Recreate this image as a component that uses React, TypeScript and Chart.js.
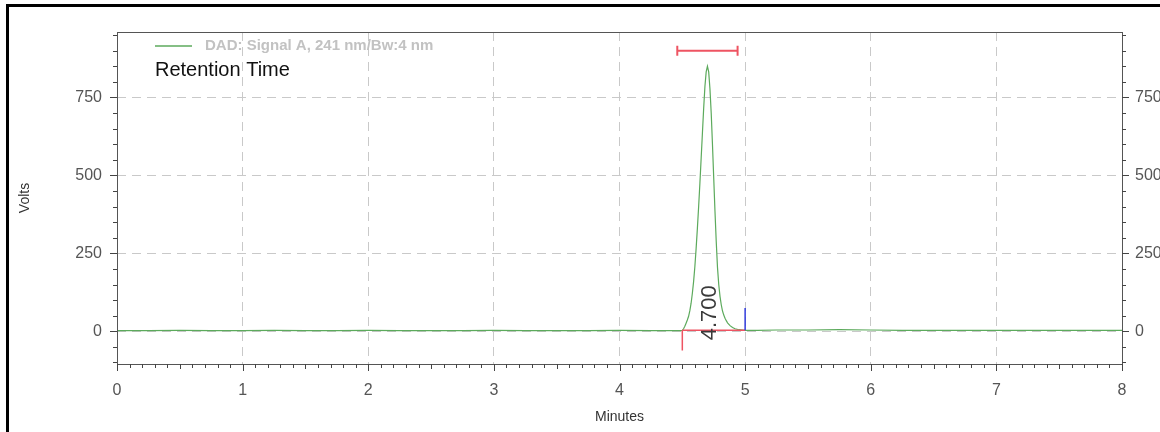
import React, { useEffect, useRef } from 'react';
import { Chart, registerables } from 'chart.js';

Chart.register(...registerables);

// ---- data ----
const TIME = [
  0, 0.25, 0.5, 0.75, 1.0, 1.25, 1.5, 1.75, 2.0, 2.25, 2.5, 2.75, 3.0, 3.25, 3.5, 3.75, 4.0, 4.25, 4.4, 4.48,
  4.5, 4.51, 4.52, 4.53, 4.54, 4.55, 4.56, 4.57, 4.58, 4.59, 4.6, 4.61, 4.62, 4.63, 4.64, 4.65, 4.66, 4.67, 4.68, 4.69, 4.7,
  4.71, 4.72, 4.73, 4.74, 4.75, 4.76, 4.77, 4.78, 4.79, 4.8, 4.81, 4.82, 4.83, 4.84, 4.85, 4.86,
  4.88, 4.9, 4.92, 4.95, 5.0, 5.1, 5.25, 5.5, 5.75, 6.0, 6.25, 6.5, 6.75, 7.0, 7.25, 7.5, 7.75, 8.0,
];
const SIGNAL = [
  2, 2, 3, 2, 2, 3, 2, 2, 3, 2, 2, 2, 3, 2, 2, 2, 3, 2, 2, 2,
  3, 8, 16, 26, 36, 48, 66, 90, 122, 160, 208, 266, 330, 400, 475, 555, 635, 715, 785, 832, 850,
  832, 778, 700, 600, 492, 385, 288, 205, 150, 112, 85, 65, 52, 42, 34, 27,
  18, 12, 8, 5, 3, 3, 4, 4, 5, 4, 3, 3, 3, 3, 3, 3, 3, 3,
];

const X_TICKS = [0, 1, 2, 3, 4, 5, 6, 7, 8];
const Y_TICKS = [0, 250, 500, 750];
const X_MIN = 0;
const X_MAX = 8;
const Y_MIN = -105;
const Y_MAX = 960;

const SERIES_LABEL = 'DAD: Signal A, 241 nm/Bw:4 nm';
const ANNOTATION_TITLE = 'Retention Time';
const X_TITLE = 'Minutes';
const Y_TITLE = 'Volts';

const PEAK_TIME = 4.7;
const PEAK_LABEL = '4.700';
const PEAK_START = 4.5;
const PEAK_END = 5.0;
const WINDOW_START = 4.46;
const WINDOW_END = 4.94;
const WINDOW_LEVEL = 900;
const BASELINE_LEVEL = 3;
const START_MARK_LOW = -62;
const END_MARK_HIGH = 75;

const FONT = '"Liberation Sans", Arial, sans-serif';
const GREEN = 'rgb(92,170,92)';
const RED = 'rgb(238,84,98)';
const BLUE = 'rgb(50,60,220)';

const chromPlugin = {
  id: 'chrom',
  beforeDraw(chart: any) {
    const { ctx, width, height } = chart;
    ctx.save();
    ctx.fillStyle = '#ffffff';
    ctx.fillRect(0, 0, width, height);
    ctx.fillStyle = '#000000';
    ctx.fillRect(6, 4, width - 6, 3);
    ctx.fillRect(6, 4, 3, height - 4);
    ctx.restore();
  },
  afterDraw(chart: any) {
    const { ctx, chartArea } = chart;
    const xs = chart.scales.x;
    const ys = chart.scales.y;
    const { left, right, top, bottom } = chartArea;
    ctx.save();

    // frame
    ctx.strokeStyle = '#555555';
    ctx.lineWidth = 1;
    ctx.strokeRect(Math.round(left) + 0.5, Math.round(top) + 0.5, Math.round(right - left), Math.round(bottom - top));

    // tick marks
    ctx.strokeStyle = '#444444';
    ctx.beginPath();
    for (let v = -100; v <= Y_MAX; v += 50) {
      const y = Math.round(ys.getPixelForValue(v)) + 0.5;
      const len = v % 250 === 0 ? 7 : 4;
      ctx.moveTo(left, y);
      ctx.lineTo(left - len, y);
      ctx.moveTo(right, y);
      ctx.lineTo(right + len, y);
    }
    for (let i = 0; i <= 80; i++) {
      const t = i / 10;
      const x = Math.round(xs.getPixelForValue(t)) + 0.5;
      const len = i % 10 === 0 ? 7 : i % 5 === 0 ? 5 : 4;
      ctx.moveTo(x, bottom);
      ctx.lineTo(x, bottom + len);
    }
    ctx.stroke();

    // retention-time window bar
    const wy = ys.getPixelForValue(WINDOW_LEVEL);
    const wx1 = xs.getPixelForValue(WINDOW_START);
    const wx2 = xs.getPixelForValue(WINDOW_END);
    ctx.strokeStyle = RED;
    ctx.lineWidth = 2;
    ctx.beginPath();
    ctx.moveTo(wx1, wy);
    ctx.lineTo(wx2, wy);
    ctx.moveTo(wx1, wy - 5);
    ctx.lineTo(wx1, wy + 5);
    ctx.moveTo(wx2, wy - 5);
    ctx.lineTo(wx2, wy + 5);
    ctx.stroke();

    // integration baseline and marks
    const by = ys.getPixelForValue(BASELINE_LEVEL);
    const sx = xs.getPixelForValue(PEAK_START);
    const ex = xs.getPixelForValue(PEAK_END);
    ctx.lineWidth = 1.5;
    ctx.beginPath();
    ctx.moveTo(sx, by);
    ctx.lineTo(ex, by);
    ctx.moveTo(sx, by);
    ctx.lineTo(sx, ys.getPixelForValue(START_MARK_LOW));
    ctx.stroke();
    ctx.strokeStyle = BLUE;
    ctx.beginPath();
    ctx.moveTo(ex, by);
    ctx.lineTo(ex, ys.getPixelForValue(END_MARK_HIGH));
    ctx.stroke();

    // peak label
    ctx.save();
    ctx.translate(xs.getPixelForValue(PEAK_TIME) + 2, by + 10);
    ctx.rotate(-Math.PI / 2);
    ctx.fillStyle = '#3a3a3a';
    ctx.font = `22px ${FONT}`;
    ctx.textAlign = 'left';
    ctx.textBaseline = 'middle';
    ctx.fillText(PEAK_LABEL, 0, 0);
    ctx.restore();

    // legend
    ctx.strokeStyle = GREEN;
    ctx.lineWidth = 1.5;
    ctx.beginPath();
    ctx.moveTo(155, 46);
    ctx.lineTo(192, 46);
    ctx.stroke();
    ctx.fillStyle = '#c2c2c2';
    ctx.font = `bold 15px ${FONT}`;
    ctx.textAlign = 'left';
    ctx.textBaseline = 'middle';
    ctx.fillText(SERIES_LABEL, 205, 46);

    ctx.fillStyle = '#111111';
    ctx.font = `20px ${FONT}`;
    ctx.fillText(ANNOTATION_TITLE, 155, 70);

    // axis titles
    ctx.fillStyle = '#333333';
    ctx.font = `14px ${FONT}`;
    ctx.textAlign = 'center';
    ctx.fillText(X_TITLE, (left + right) / 2, 417);
    ctx.save();
    ctx.translate(25, (top + bottom) / 2);
    ctx.rotate(-Math.PI / 2);
    ctx.fillText(Y_TITLE, 0, 0);
    ctx.restore();

    ctx.restore();
  },
};

export default function App() {
  const canvasRef = useRef<HTMLCanvasElement | null>(null);

  useEffect(() => {
    const canvas = canvasRef.current;
    if (!canvas) return;
    const gridColorY = (ctx: any) => (Y_TICKS.includes(ctx.tick?.value) ? '#c9c9c9' : 'transparent');
    const gridColorX = (ctx: any) => {
      const v = ctx.tick?.value;
      return v > X_MIN && v < X_MAX ? '#c9c9c9' : 'transparent';
    };
    const chart = new Chart(canvas, {
      type: 'line',
      data: {
        datasets: [
          {
            label: SERIES_LABEL,
            data: TIME.map((t, i) => ({ x: t, y: SIGNAL[i] })),
            borderColor: GREEN,
            borderWidth: 1.2,
            pointRadius: 0,
            tension: 0,
            fill: false,
          },
        ],
      },
      options: {
        animation: false,
        responsive: false,
        devicePixelRatio: 1,
        layout: { padding: { top: 32, left: 0, right: 0, bottom: 0 } },
        plugins: { legend: { display: false }, tooltip: { enabled: false } },
        scales: {
          x: {
            type: 'linear',
            position: 'bottom',
            min: X_MIN,
            max: X_MAX,
            afterBuildTicks: (s: any) => {
              s.ticks = X_TICKS.map((v) => ({ value: v }));
            },
            afterFit: (s: any) => {
              s.height = 68;
            },
            ticks: {
              color: '#555555',
              font: { family: FONT, size: 16 },
              padding: 17,
              maxRotation: 0,
              autoSkip: false,
            },
            grid: { color: gridColorX, lineWidth: 1, drawTicks: false },
            border: { display: false, dash: [9, 6] },
          },
          y: {
            type: 'linear',
            position: 'left',
            min: Y_MIN,
            max: Y_MAX,
            afterBuildTicks: (s: any) => {
              s.ticks = Y_TICKS.map((v) => ({ value: v }));
            },
            afterFit: (s: any) => {
              s.width = 117;
            },
            ticks: {
              color: '#555555',
              font: { family: FONT, size: 16 },
              padding: 15,
              autoSkip: false,
            },
            grid: { color: gridColorY, lineWidth: 1, drawTicks: false },
            border: { display: false, dash: [9, 6] },
          },
          y2: {
            type: 'linear',
            position: 'right',
            min: Y_MIN,
            max: Y_MAX,
            afterBuildTicks: (s: any) => {
              s.ticks = Y_TICKS.map((v) => ({ value: v }));
            },
            afterFit: (s: any) => {
              s.width = 38;
            },
            ticks: {
              color: '#555555',
              font: { family: FONT, size: 16 },
              padding: 13,
              autoSkip: false,
            },
            grid: { display: false, drawTicks: false },
            border: { display: false },
          },
        },
      },
      plugins: [chromPlugin],
    } as any);
    return () => chart.destroy();
  }, []);

  return (
    <div style={{ position: 'fixed', left: 0, top: 0, width: 1160, height: 432, background: '#fff' }}>
      <canvas ref={canvasRef} width={1160} height={432} style={{ display: 'block', width: 1160, height: 432 }} />
    </div>
  );
}
